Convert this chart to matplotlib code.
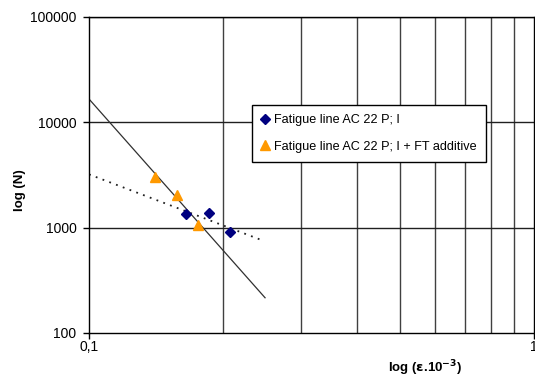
import matplotlib
matplotlib.use("Agg")
import matplotlib.pyplot as plt
from matplotlib.ticker import FixedLocator, FixedFormatter, NullLocator

# data
strain_ac = [0.1652, 0.1858, 0.207]
cycles_ac = [1337, 1367, 908]
strain_ft = [0.1405, 0.1577, 0.1757]
cycles_ft = [3030, 2040, 1060]

# trend lines (end points)
trend_ac_x = [0.1, 0.2443]
trend_ac_y = [3206, 762]
trend_ft_x = [0.1, 0.2487]
trend_ft_y = [16640, 216]

x_ticks = [0.1, 1]
x_tick_labels = ["0,1", "1"]
x_grid = [0.2, 0.3, 0.4, 0.5, 0.6, 0.7, 0.8, 0.9]
y_ticks = [100, 1000, 10000, 100000]
y_tick_labels = ["100", "1000", "10000", "100000"]

plt.rcParams['font.family'] = ['Liberation Sans', 'DejaVu Sans']

fig = plt.figure(figsize=(5.35, 3.76), dpi=100)
ax = fig.add_axes([0.1664, 0.1144, 0.8316, 0.8404])
ax.set_xscale('log')
ax.set_yscale('log')
ax.set_xlim(0.1, 1)
ax.set_ylim(100, 100000)

# grid
for gx in x_grid:
    ax.axvline(gx, color='#404040', lw=1.0, zorder=1)
for gy in y_ticks[1:]:
    ax.axhline(gy, color='#202020', lw=1.0, zorder=1)

ax.plot(trend_ft_x, trend_ft_y, color='#303030', lw=0.9, zorder=2)
ax.plot(trend_ac_x, trend_ac_y, color='#202020', lw=1.3,
        linestyle=(0, (1, 3)), zorder=2)

ax.plot(strain_ac, cycles_ac, linestyle='none', marker='D', color='#000080',
        markersize=5.5, label='Fatigue line AC 22 P; I', zorder=3)
ax.plot(strain_ft, cycles_ft, linestyle='none', marker='^', color='#FF9900',
        markersize=7, label='Fatigue line AC 22 P; I + FT additive', zorder=3)

ax.xaxis.set_major_locator(FixedLocator(x_ticks))
ax.xaxis.set_major_formatter(FixedFormatter(x_tick_labels))
ax.xaxis.set_minor_locator(NullLocator())
ax.yaxis.set_major_locator(FixedLocator(y_ticks))
ax.yaxis.set_major_formatter(FixedFormatter(y_tick_labels))
ax.yaxis.set_minor_locator(NullLocator())
ax.tick_params(axis='both', direction='out', length=4, width=1, labelsize=10,
               color='black')
ax.tick_params(axis='x', pad=1)
ax.tick_params(axis='y', pad=5)
for s in ax.spines.values():
    s.set_color('black')
    s.set_linewidth(1.0)

fig.text(0.038, 0.495, 'log (N)', fontsize=9.5, fontweight='bold',
         rotation=90, ha='center', va='center')
fig.text(0.795, 0.022, r'log ($\mathbf{\varepsilon}$.10$^{\mathbf{-3}}$)', fontsize=9.5,
         fontweight='bold', ha='center', va='center')

leg = ax.legend(loc='upper left', bbox_to_anchor=(0.351, 0.743), fontsize=9.1,
                frameon=True, fancybox=False, edgecolor='black', framealpha=1,
                handlelength=0.7, handletextpad=0.35, labelspacing=1.15,
                borderpad=0.75)
leg.get_frame().set_linewidth(1.0)

fig.savefig('out.png', dpi=100)
